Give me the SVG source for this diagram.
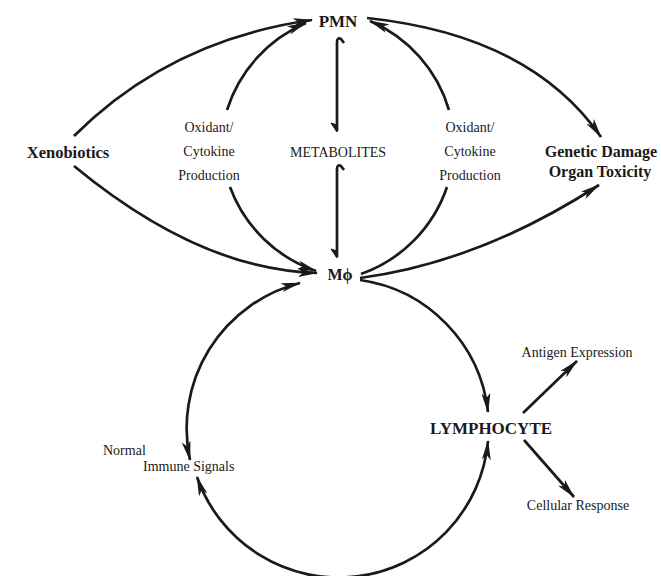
<svg xmlns="http://www.w3.org/2000/svg" width="661" height="576" viewBox="0 0 661 576">
<style>
.c{fill:none;stroke:#1a1a1a;stroke-width:2.7}
.t{font-family:"Liberation Serif","Times New Roman",serif;fill:#1a1a1a}
.b{font-weight:bold}
.r{font-size:14px}
.a{marker-end:url(#ah)}
.s{marker-start:url(#ah)}
</style>
<defs>
<marker id="ah" markerUnits="userSpaceOnUse" viewBox="0 0 20 9" markerWidth="20" markerHeight="9" refX="19" refY="4.5" orient="auto-start-reverse">
<path d="M0,0 L20,4.5 L0,9 L5,4.5 z" fill="#1a1a1a"/>
</marker>
</defs>
<rect width="661" height="576" fill="#fff"/>
<g id="connectors">
<path class="c a" d="M74,136 Q170,40 312,20"/>
<path class="c a" d="M74,166 Q200,270 317,273"/>
<path class="c a" d="M227,110 A140 140 0 0 1 306,23"/>
<path class="c a" d="M230,187 A140 140 0 0 0 316,271"/>
<path class="c a" d="M449,110 A140 140 0 0 0 370,21"/>
<path class="c" d="M447,187 A140 140 0 0 1 361,274"/>
<path class="c a" d="M367,18 Q530,35 601,137"/>
<path class="c a" d="M360,278 Q480,262 599,185"/>
<path class="c" d="M337,131 L337,42 Q337,37 341,39 L344,43"/>
<path d="M337,132 L331,123 L337,125 z" fill="#1a1a1a" stroke="#1a1a1a" stroke-width="1"/>
<path class="c" d="M337,257 L337,169 Q337,164 341,166 L344,170"/>
<path d="M337,258 L331,249 L337,251 z" fill="#1a1a1a" stroke="#1a1a1a" stroke-width="1"/>
<path class="c a s" d="M300,283 A150 150 0 0 0 190,460"/>
<path class="c a s" d="M197,477 A150 150 0 0 0 488,441"/>
<path class="c a" d="M360,280 A150 150 0 0 1 488,412"/>
<path class="c a" d="M523,413 L577,361"/>
<path class="c a" d="M524,440 L574,497"/>
</g>
<g id="pmn"><text class="t b" x="338" y="27" font-size="17" text-anchor="middle">PMN</text></g>
<g id="xenobiotics"><text class="t b" x="68" y="158" font-size="16.5" text-anchor="middle">Xenobiotics</text></g>
<g id="oxidant-left">
<text class="t r" x="209" y="132" text-anchor="middle">Oxidant/</text>
<text class="t r" x="209" y="156" text-anchor="middle">Cytokine</text>
<text class="t r" x="209" y="180" text-anchor="middle">Production</text>
</g>
<g id="metabolites"><text class="t r" x="338" y="157" text-anchor="middle">METABOLITES</text></g>
<g id="oxidant-right">
<text class="t r" x="470" y="132" text-anchor="middle">Oxidant/</text>
<text class="t r" x="470" y="156" text-anchor="middle">Cytokine</text>
<text class="t r" x="470" y="180" text-anchor="middle">Production</text>
</g>
<g id="genetic-damage">
<text class="t b" x="601" y="157" font-size="16" text-anchor="middle">Genetic Damage</text>
<text class="t b" x="600" y="177" font-size="16" text-anchor="middle">Organ Toxicity</text>
</g>
<g id="macrophage"><text class="t b" x="340" y="280" font-size="16" text-anchor="middle">Mϕ</text></g>
<g id="lymphocyte"><text class="t b" x="491" y="434" font-size="17" text-anchor="middle">LYMPHOCYTE</text></g>
<g id="antigen"><text class="t r" x="577" y="357" text-anchor="middle">Antigen Expression</text></g>
<g id="cellular"><text class="t r" x="578" y="510" text-anchor="middle">Cellular Response</text></g>
<g id="normal-signals">
<text class="t r" x="103" y="455">Normal</text>
<text class="t r" x="143" y="471">Immune Signals</text>
</g>
</svg>
